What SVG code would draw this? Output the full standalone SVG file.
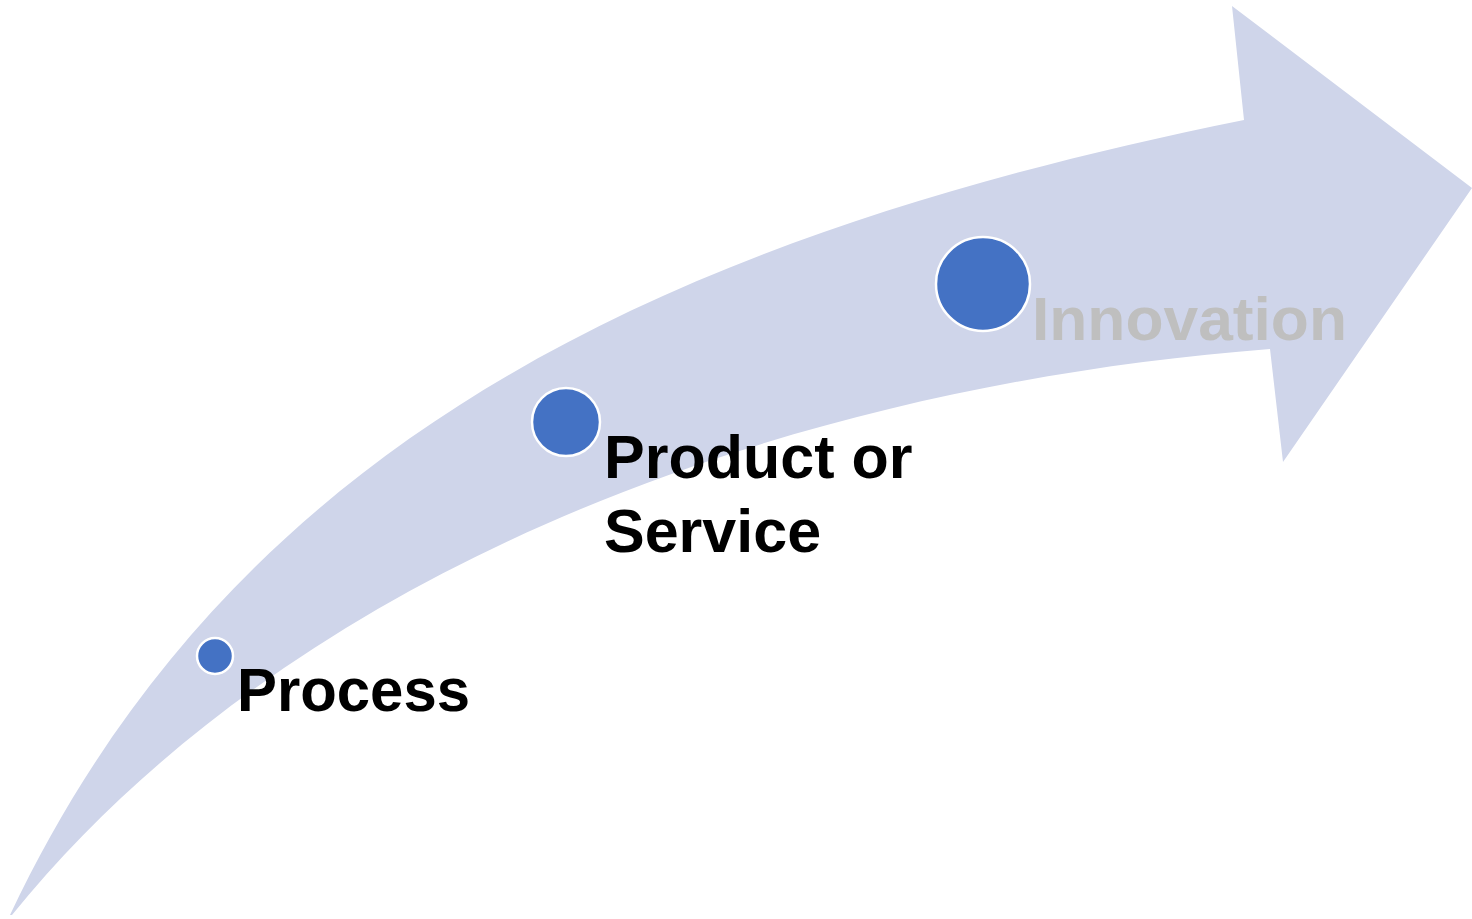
<svg xmlns="http://www.w3.org/2000/svg" width="1472" height="919" viewBox="0 0 1472 919">
<style>
.dot{fill:#4472C4;stroke:#FFFFFF;stroke-width:2.5}
.lbl{font-family:"Liberation Sans",Arial,sans-serif;font-weight:bold;font-size:61px;fill:#000000}
.muted{fill:#BFBFBF}
</style>
<rect width="1472" height="919" fill="#FFFFFF"/>
<g id="arrow">
<path d="M10,915 C230,450 650,240 1244,120 L1232,6 L1472,188 L1283,462 L1270,349 C800,385 300,560 12,915 Z" fill="#CFD5EA"/>
</g>
<g id="process">
<circle class="dot" cx="215" cy="656" r="18"/>
<text class="lbl" x="237" y="711" textLength="233" lengthAdjust="spacingAndGlyphs">Process</text>
</g>
<g id="product">
<circle class="dot" cx="566" cy="422" r="34"/>
<text class="lbl" x="604" y="478">Product or</text>
<text class="lbl" x="604" y="552">Service</text>
</g>
<g id="innovation">
<circle class="dot" cx="983" cy="284" r="47"/>
<text class="lbl muted" x="1032" y="340" textLength="315" lengthAdjust="spacingAndGlyphs">Innovation</text>
</g>
</svg>
